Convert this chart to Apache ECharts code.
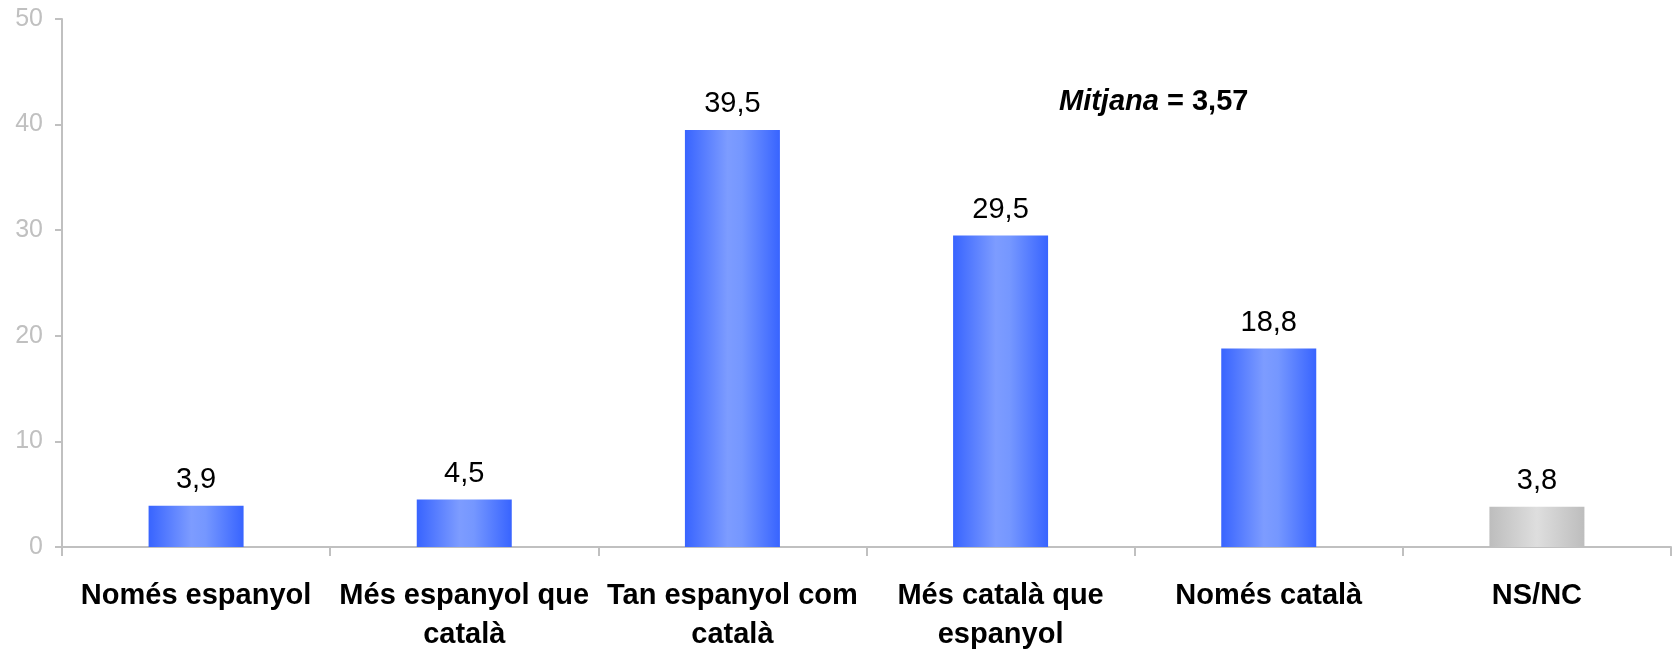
<!DOCTYPE html>
<html><head><meta charset="utf-8">
<script src="https://cdn.jsdelivr.net/npm/echarts@6/dist/echarts.min.js"></script>
<style>html,body{margin:0;padding:0;background:#fff}#c{width:1677px;height:654px}</style>
</head><body><div id="c"></div>
<script>
const categories = ['Només espanyol', 'Més espanyol que\ncatalà', 'Tan espanyol com\ncatalà', 'Més català que\nespanyol', 'Només català', 'NS/NC'];
const values = [3.9, 4.5, 39.5, 29.5, 18.8, 3.8];
const greyIndex = [5];
const yTicks = [0, 10, 20, 30, 40, 50];
const meanLabel = 'Mitjana';
const meanValue = '3,57';

const blue = {type:'linear',x:0,y:0,x2:1,y2:0,colorStops:[
  {offset:0,color:'#3864ff'},{offset:0.45,color:'#7d9cff'},{offset:0.6,color:'#7597ff'},{offset:1,color:'#3864ff'}]};
const grey = {type:'linear',x:0,y:0,x2:1,y2:0,colorStops:[
  {offset:0,color:'#bdbdbd'},{offset:0.5,color:'#dedede'},{offset:1,color:'#bdbdbd'}]};

const chart = echarts.init(document.getElementById('c'));
chart.setOption({
  animation:false,
  grid:{left:62,right:6,top:19,bottom:104,containLabel:false},
  xAxis:{type:'category',data:categories,
    axisLine:{lineStyle:{color:'#c0c0c0',width:2}},
    axisTick:{show:true,length:9,lineStyle:{color:'#c0c0c0',width:2}},
    axisLabel:{interval:0,margin:29,color:'#000',fontFamily:'Liberation Sans',fontWeight:'bold',fontSize:29,lineHeight:39}
  },
  yAxis:{type:'value',min:0,max:50,interval:10,
    splitLine:{show:false},
    axisLine:{show:true,lineStyle:{color:'#c0c0c0',width:2}},
    axisTick:{show:true,length:7,lineStyle:{color:'#c0c0c0',width:2}},
    axisLabel:{margin:19,color:'#c0c0c0',fontFamily:'Liberation Sans',fontSize:25,
      formatter:v=>yTicks.includes(v)?String(v):''}
  },
  series:[{type:'bar',barWidth:95,
    data:values.map((v,i)=>({value:v,itemStyle:{color:greyIndex.includes(i)?grey:blue}})),
    label:{show:true,position:'top',distance:11,color:'#000',fontFamily:'Liberation Sans',fontSize:29,
      formatter:p=>String(p.value).replace('.',',')}
  }],
  graphic:[{type:'text',x:1059,y:102,
    style:{text:'{i|'+meanLabel+'}{b| = '+meanValue+'}',verticalAlign:'middle',
      rich:{i:{fontFamily:'Liberation Sans',fontWeight:'bold',fontStyle:'italic',fontSize:29,fill:'#000'},
            b:{fontFamily:'Liberation Sans',fontWeight:'bold',fontSize:29,fill:'#000'}}}}]
});
</script></body></html>
